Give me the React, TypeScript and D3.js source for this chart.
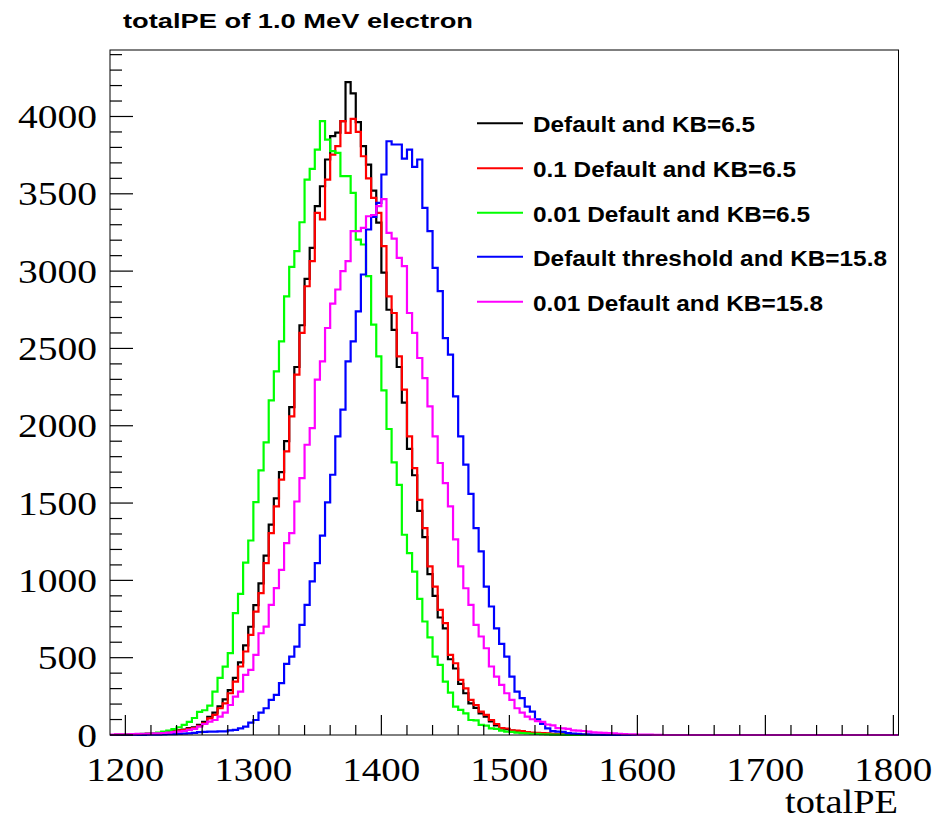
import React from "react";
import * as d3 from "d3";

const BIN_START = 1188;
const BIN_WIDTH = 4;
const N_BINS = 154;
const X_MIN = 1188;
const X_MAX = 1804;
const Y_MAX = 4430;

const seriesNames = [
  "Default and KB=6.5",
  "0.1 Default and KB=6.5",
  "0.01 Default and KB=6.5",
  "Default threshold and KB=15.8",
  "0.01 Default and KB=15.8",
];
const seriesColors = ["#000000", "#ff0000", "#00ff00", "#0000ff", "#ff00ff"];

// bin contents, first bin starts at BIN_START, bins of BIN_WIDTH; missing tail = 0
const blackCounts = [0,1,1,2,3,4,6,7,9,12,14,18,23,30,35,44,50,65,85,118,145,185,230,290,370,470,580,700,840,980,1160,1360,1530,1700,1900,2120,2380,2650,2950,3150,3420,3549,3722,3873,3896,3970,4222,4149,3963,3808,3689,3521,3313,2990,2750,2620,2380,2150,1850,1680,1450,1280,1040,900,760,690,490,430,330,270,205,175,140,118,88,62,42,38,28,25,22,16,13,11,9,8,6,5,4,3,2,1];
const redCounts = [0,1,1,2,3,4,5,7,9,11,13,16,22,28,32,40,45,59,76,108,130,173,205,270,345,443,540,647,798,917,1111,1306,1478,1651,1834,2060,2330,2600,2902,3064,3377,3334,3592,3754,3808,3970,3894,3985,3900,3743,3600,3474,3377,3161,2837,2729,2449,2233,1931,1726,1521,1338,1090,960,809,723,518,464,356,302,227,194,151,130,97,71,45,42,30,28,26,18,15,14,12,10,8,6,5,4,3,2,2,1];
const greenCounts = [0,0,0,2,3,5,7,9,12,16,22,28,38,50,65,85,110,150,160,190,280,370,442,529,788,913,1115,1258,1506,1711,1892,2164,2352,2546,2837,3027,3129,3316,3592,3661,3786,3970,3851,3776,3765,3614,3614,3506,3204,3172,2967,2654,2449,2229,1979,1763,1618,1295,1176,1057,880,734,632,507,453,345,274,184,162,140,97,95,65,60,43,40,28,22,20,15,12,10,8,7,5,4,3,2,2,1];
const blueCounts = [0,0,0,0,1,1,1,2,2,3,4,5,6,7,9,11,14,18,20,22,22,24,24,30,33,43,54,80,97,145,173,227,259,335,460,507,572,712,842,993,1111,1290,1504,1683,1931,2104,2416,2546,2740,2978,3269,3350,3441,3625,3840,3819,3819,3728,3786,3674,3722,3409,3258,3021,2870,2567,2460,2190,1931,1748,1560,1338,1187,960,831,690,589,507,378,281,238,184,151,102,72,43,25,22,20,12,9,7,5,4,3,2,1];
const magentaCounts = [3,4,5,5,6,7,8,9,10,11,13,16,19,22,26,33,40,54,71,87,97,119,145,194,248,281,389,421,518,658,701,842,950,1068,1241,1306,1510,1661,1877,1985,2298,2416,2632,2790,2881,3000,3064,3258,3258,3280,3355,3363,3420,3465,3247,3210,3085,3032,2729,2600,2438,2308,2125,1931,1759,1629,1478,1265,1090,949,842,712,637,561,443,378,324,270,227,173,145,119,102,90,85,68,62,45,43,40,30,28,26,22,17,15,14,12,10,8,6,5,4,3,2,2,1,1];

const allCounts = [blackCounts, redCounts, greenCounts, blueCounts, magentaCounts];

const yMajorTicks = [0, 500, 1000, 1500, 2000, 2500, 3000, 3500, 4000];
const yMinorStep = 100;
const xMajorTicks = [1200, 1300, 1400, 1500, 1600, 1700, 1800];
const xMinorStep = 20;

const titleText = "totalPE of 1.0 MeV electron";
const xAxisTitle = "totalPE";

const legendTextLengths = [222, 263, 277, 354, 290];

export default function App() {
  const W = 945;
  const H = 823;
  const left = 110;
  const right = 898.5;
  const top = 50;
  const bottom = 735;

  const x = d3.scaleLinear().domain([X_MIN, X_MAX]).range([left, right]);
  const y = d3.scaleLinear().domain([0, Y_MAX]).range([bottom, top]);

  const line = d3
    .line<[number, number]>()
    .x((d) => x(d[0]))
    .y((d) => y(d[1]))
    .curve(d3.curveStepAfter);

  const paths = allCounts.map((counts) => {
    const full = Array.from({ length: N_BINS }, (_, i) => (i < counts.length ? counts[i] : 0));
    const pts: [number, number][] = full.map((c, i) => [BIN_START + i * BIN_WIDTH, c]);
    pts.push([BIN_START + N_BINS * BIN_WIDTH, full[full.length - 1]]);
    return line(pts) || "";
  });

  const yMinor = d3.range(0, Y_MAX + 1, yMinorStep).filter((v) => v % 500 !== 0);
  const xMinor = d3.range(1200, X_MAX + 0.1, xMinorStep).filter((v) => v % 100 !== 0);

  const serif = "'Liberation Serif', 'Times New Roman', serif";
  const sans = "'Liberation Sans', Arial, Helvetica, sans-serif";

  const legendY = [123.3, 168.3, 212.7, 256.7, 301.7];

  return (
    <svg
      width={W}
      height={H}
      viewBox={`0 0 ${W} ${H}`}
      style={{ position: "absolute", left: 0, top: 0, background: "#fff" }}
    >
      <rect x={0} y={0} width={W} height={H} fill="#fff" />
      <text
        x={123}
        y={27.5}
        fontFamily={sans}
        fontWeight="bold"
        fontSize={19.5}
        textLength={350}
        lengthAdjust="spacingAndGlyphs"
        fill="#000"
      >
        {titleText}
      </text>

      <defs>
        <clipPath id="frameClip">
          <rect x={left} y={top} width={right - left} height={bottom - top + 1.5} />
        </clipPath>
      </defs>

      <g clipPath="url(#frameClip)">
        {paths.map((d, i) => (
          <path key={i} d={d} fill="none" stroke={seriesColors[i]} strokeWidth={2.2} />
        ))}
      </g>

      {/* frame */}
      <rect x={left} y={top} width={right - left} height={bottom - top} fill="none" stroke="#000" strokeWidth={1} />

      {/* y ticks */}
      {yMajorTicks.map((v) => (
        <line key={"ym" + v} x1={left} x2={left + 23} y1={y(v)} y2={y(v)} stroke="#000" strokeWidth={1.2} />
      ))}
      {yMinor.map((v) => (
        <line key={"yn" + v} x1={left} x2={left + 12} y1={y(v)} y2={y(v)} stroke="#000" strokeWidth={1.2} />
      ))}
      {yMajorTicks.map((v) => {
        const s = String(v);
        return (
          <text
            key={"yl" + v}
            x={97}
            y={y(v) + 11.5}
            textAnchor="end"
            fontFamily={serif}
            fontSize={33}
            textLength={19.75 * s.length}
            lengthAdjust="spacingAndGlyphs"
            fill="#000"
          >
            {s}
          </text>
        );
      })}

      {/* x ticks */}
      {xMajorTicks.map((v) => (
        <line key={"xm" + v} x1={x(v)} x2={x(v)} y1={bottom} y2={bottom - 20} stroke="#000" strokeWidth={1.2} />
      ))}
      {xMinor.map((v) => (
        <line key={"xn" + v} x1={x(v)} x2={x(v)} y1={bottom} y2={bottom - 10} stroke="#000" strokeWidth={1.2} />
      ))}
      {xMajorTicks.map((v) => (
        <text
          key={"xl" + v}
          x={x(v)}
          y={781}
          textAnchor="middle"
          fontFamily={serif}
          fontSize={33}
          textLength={78}
          lengthAdjust="spacingAndGlyphs"
          fill="#000"
        >
          {String(v)}
        </text>
      ))}
      <text
        x={898}
        y={813}
        textAnchor="end"
        fontFamily={serif}
        fontSize={33}
        textLength={113}
        lengthAdjust="spacingAndGlyphs"
        fill="#000"
      >
        {xAxisTitle}
      </text>

      {/* legend */}
      {seriesNames.map((name, i) => (
        <g key={"lg" + i}>
          <line x1={477} x2={523} y1={legendY[i]} y2={legendY[i]} stroke={seriesColors[i]} strokeWidth={2} />
          <text
            x={533}
            y={legendY[i] + 9}
            fontFamily={sans}
            fontWeight="bold"
            fontSize={22.8}
            textLength={legendTextLengths[i]}
            lengthAdjust="spacingAndGlyphs"
            fill="#000"
          >
            {name}
          </text>
        </g>
      ))}
    </svg>
  );
}
